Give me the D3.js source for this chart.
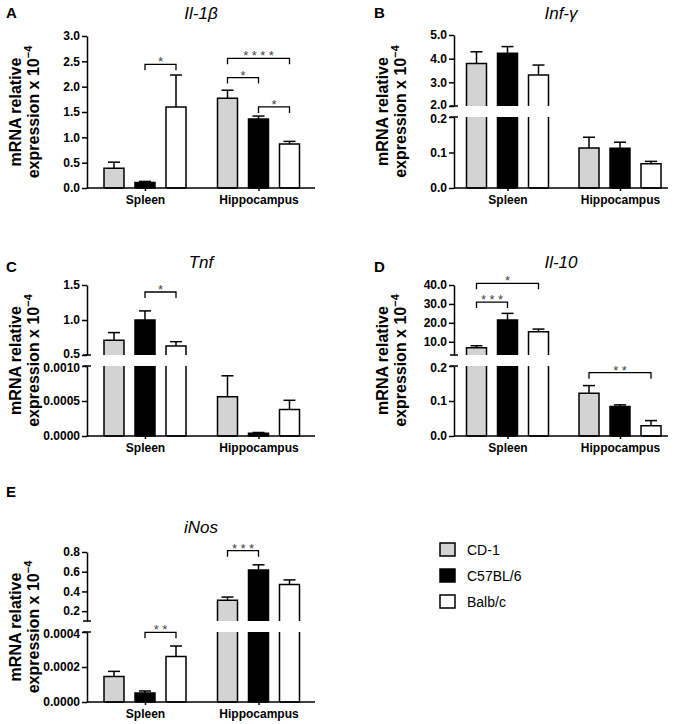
<!DOCTYPE html>
<html>
<head>
<meta charset="utf-8">
<script src="https://cdn.jsdelivr.net/npm/d3@7"></script>
<style>
  body { margin: 0; background: #fff; }
  text { font-family: "Liberation Sans", Arial, sans-serif; }
</style>
</head>
<body>
<svg id="chart" width="680" height="724"></svg>
<script>
// categories
var tissues = ["Spleen", "Hippocampus"];
var strains = ["CD-1", "C57BL/6", "Balb/c"];
var strainFill = ["#d3d3d3", "#000000", "#ffffff"];

// Il-1b  (means and SEM, rows = tissue, cols = strain)
var il1bMean = [[0.39, 0.11, 1.60], [1.77, 1.36, 0.87]];
var il1bSem  = [[0.12, 0.02, 0.63], [0.16, 0.06, 0.05]];
var il1bTicks = [0, 0.5, 1.0, 1.5, 2.0, 2.5, 3.0];
// [tissue, from strain, to strain, level, label]
var il1bSig = [[0, 1, 2, 2.44, "*"], [1, 0, 2, 2.56, "****"], [1, 0, 1, 2.18, "*"], [1, 1, 2, 1.60, "*"]];

// Inf-g
var infgMean = [[3.80, 4.23, 3.31], [0.113, 0.112, 0.068]];
var infgSem  = [[0.49, 0.28, 0.42], [0.030, 0.017, 0.007]];
var infgLowTicks = [0, 0.1, 0.2];
var infgHighTicks = [2.0, 3.0, 4.0, 5.0];
var infgSig = [];

// Tnf
var tnfMean = [[0.71, 1.00, 0.63], [0.00056, 0.00004, 0.00038]];
var tnfSem  = [[0.11, 0.13, 0.06], [0.00030, 0.00001, 0.00013]];
var tnfLowTicks = [0, 0.0005, 0.0010];
var tnfHighTicks = [0.5, 1.0, 1.5];
var tnfSig = [[0, 1, 2, 1.40, "*"]];

// Il-10
var il10Mean = [[6.8, 21.5, 15.3], [0.122, 0.084, 0.029]];
var il10Sem  = [[1.1, 3.5, 1.4], [0.022, 0.005, 0.015]];
var il10LowTicks = [0, 0.1, 0.2];
var il10HighTicks = [10, 20, 30, 40];
var il10Sig = [[0, 0, 2, 40.9, "*"], [0, 0, 1, 31, "***"], [1, 0, 2, 0.181, "**"]];

// iNos
var inosMean = [[0.000146, 0.000051, 0.00026], [0.31, 0.617, 0.47]];
var inosSem  = [[0.000029, 0.000012, 0.00006], [0.033, 0.053, 0.047]];
var inosLowTicks = [0, 0.0002, 0.0004];
var inosHighTicks = [0.2, 0.4, 0.6, 0.8];
var inosSig = [[0, 1, 2, 0.000398, "**"], [1, 0, 1, 0.813, "***"]];

var svg = d3.select("#chart");

// panel layout: x axis span, group centres, y segments (bottom first)
var left = {x0: 87, x1: 315, c: [145, 258.5]};
var right = {x0: 454, x1: 668, c: [507.5, 620]};

var panels = [
  {letter: "A", title: "Il-1\u03B2", lx: 6, ly: 18, ty: 19, col: left, labX: [21, 39],
   mean: il1bMean, sem: il1bSem, sig: il1bSig,
   segs: [{dom: [0, 3], rng: [188, 36], ticks: il1bTicks, fmt: ".1f"}]},
  {letter: "B", title: "Inf-\u03B3", lx: 374, ly: 18, ty: 19, col: right, labX: [388, 406],
   mean: infgMean, sem: infgSem, sig: infgSig,
   segs: [{dom: [0, 0.2], rng: [188, 117], ticks: infgLowTicks, fmt: ".1f"},
          {dom: [2, 5], rng: [106, 35], ticks: infgHighTicks, fmt: ".1f"}]},
  {letter: "C", title: "Tnf", lx: 6, ly: 272, ty: 268, col: left, labX: [21, 39],
   mean: tnfMean, sem: tnfSem, sig: tnfSig,
   segs: [{dom: [0, 0.001], rng: [436, 366], ticks: tnfLowTicks, fmt: ".4f"},
          {dom: [0.5, 1.5], rng: [355, 285], ticks: tnfHighTicks, fmt: ".1f"}]},
  {letter: "D", title: "Il-10", lx: 374, ly: 272, ty: 268, col: right, labX: [388, 406],
   mean: il10Mean, sem: il10Sem, sig: il10Sig,
   segs: [{dom: [0, 0.2], rng: [436, 366], ticks: il10LowTicks, fmt: ".1f"},
          {dom: [3, 40], rng: [355, 285], ticks: il10HighTicks, fmt: ".1f"}]},
  {letter: "E", title: "iNos", lx: 6, ly: 497, ty: 533, col: left, labX: [21, 39],
   mean: inosMean, sem: inosSem, sig: inosSig,
   segs: [{dom: [0, 0.0004], rng: [702, 632], ticks: inosLowTicks, fmt: ".4f"},
          {dom: [0.1, 0.8], rng: [621, 552], ticks: inosHighTicks, fmt: ".1f"}]}
];

panels.forEach(function(p) {
  var g = svg.append("g");
  var col = p.col;
  var broken = p.segs.length > 1;

  p.segs.forEach(function(s) {
    s.y = d3.scaleLinear().domain(s.dom).range(s.rng);
  });
  var base = p.segs[0].rng[0];

  var xGroup = d3.scalePoint().domain(tissues).range(col.c);
  var xStrain = d3.scaleBand().domain(strains).range([-41, 41]).paddingInner(0.355).paddingOuter(0);
  var bw = xStrain.bandwidth();

  // segment for a value: the highest whose lower end it passes
  function segFor(v) {
    var found = p.segs[0];
    p.segs.forEach(function(s) { if (v > s.dom[0]) found = s; });
    return found;
  }

  // bars, one piece per segment
  p.segs.forEach(function(s, k) {
    tissues.forEach(function(t, ti) {
      strains.forEach(function(st, si) {
        var v = p.mean[ti][si];
        if (v <= s.dom[0]) return;
        var xl = xGroup(t) + xStrain(st);
        var xr = xl + bw;
        var yb = s.rng[0];
        var closed = v <= s.dom[1];
        var yt = s.y(Math.min(v, s.dom[1]));
        g.append("rect")
          .attr("x", xl).attr("y", yt)
          .attr("width", bw).attr("height", yb - yt)
          .attr("fill", strainFill[si]);
        var d = "M" + xl + "," + yb + "V" + yt + (closed ? "H" + xr : "M" + xr + "," + yt) + "V" + yb;
        if (k === 0) d += "H" + xl;
        g.append("path").attr("d", d)
          .attr("fill", "none").attr("stroke", "#000").attr("stroke-width", 1.5);
      });
    });
  });

  // error bars (upper only)
  tissues.forEach(function(t, ti) {
    strains.forEach(function(st, si) {
      var v = p.mean[ti][si];
      var s = segFor(v);
      var xc = xGroup(t) + xStrain(st) + bw / 2;
      var y0 = s.y(v);
      var y1 = s.y(Math.min(v + p.sem[ti][si], s.dom[1]));
      g.append("line").attr("x1", xc).attr("x2", xc).attr("y1", y0).attr("y2", y1)
        .attr("stroke", "#000").attr("stroke-width", 1.5);
      g.append("line").attr("x1", xc - 6).attr("x2", xc + 6).attr("y1", y1).attr("y2", y1)
        .attr("stroke", "#000").attr("stroke-width", 1.5);
    });
  });

  // y axis segments
  p.segs.forEach(function(s, k) {
    var ax = g.append("g")
      .attr("transform", "translate(" + col.x0 + ",0)")
      .call(d3.axisLeft(s.y).tickValues(s.ticks).tickFormat(d3.format(s.fmt))
        .tickSize(5).tickSizeOuter(0).tickPadding(2));
    ax.select(".domain").attr("stroke-width", 1.5);
    ax.selectAll(".tick line").attr("stroke-width", 1.5);
    ax.selectAll(".tick text")
      .attr("font-family", "Liberation Sans, Arial, sans-serif")
      .attr("font-size", 12).attr("font-weight", "bold").attr("fill", "#000");
    if (broken) {
      // keep the two labels next to the break apart a little
      ax.selectAll(".tick text")
        .filter(function(d) { return k === 0 ? d === s.dom[1] : d === s.dom[0]; })
        .attr("dy", k === 0 ? "0.45em" : "0.2em");
      var yEnd = k === 0 ? s.rng[1] : s.rng[0];
      g.append("line").attr("x1", col.x0 - 4).attr("x2", col.x0 + 4)
        .attr("y1", yEnd).attr("y2", yEnd)
        .attr("stroke", "#000").attr("stroke-width", 1.5);
    }
  });

  // x axis
  var xa = g.append("g")
    .attr("transform", "translate(0," + base + ")")
    .call(d3.axisBottom(xGroup).tickSize(3).tickPadding(4));
  xa.select(".domain").remove();
  xa.append("line").attr("x1", col.x0).attr("x2", col.x1)
    .attr("stroke", "#000").attr("stroke-width", 1.5);
  xa.selectAll(".tick line").attr("stroke-width", 1.5);
  xa.selectAll(".tick text")
    .attr("font-family", "Liberation Sans, Arial, sans-serif")
    .attr("font-size", 12).attr("font-weight", "bold").attr("fill", "#000");

  // significance brackets
  p.sig.forEach(function(b) {
    var s = segFor(b[3]);
    var yy = s.y(b[3]);
    var xa1 = xGroup(tissues[b[0]]) + xStrain(strains[b[1]]) + bw / 2;
    var xa2 = xGroup(tissues[b[0]]) + xStrain(strains[b[2]]) + bw / 2;
    g.append("path")
      .attr("d", "M" + xa1 + "," + (yy + 6) + "V" + yy + "H" + xa2 + "V" + (yy + 6))
      .attr("fill", "none").attr("stroke", "#000").attr("stroke-width", 1.3);
    g.append("text")
      .attr("x", (xa1 + xa2) / 2).attr("y", yy + 2)
      .attr("dx", 1.7)
      .attr("text-anchor", "middle")
      .attr("font-size", 13).attr("letter-spacing", 3.4)
      .attr("fill", "#444")
      .text(b[4]);
  });

  // titles and labels
  g.append("text")
    .attr("x", (col.x0 + col.x1) / 2).attr("y", p.ty)
    .attr("text-anchor", "middle").attr("font-size", 17).attr("font-style", "italic")
    .text(p.title);
  g.append("text")
    .attr("x", p.lx).attr("y", p.ly)
    .attr("font-size", 15).attr("font-weight", "bold")
    .text(p.letter);

  var yMid = (p.segs[0].rng[0] + p.segs[p.segs.length - 1].rng[1]) / 2;
  g.append("text")
    .attr("transform", "translate(" + p.labX[0] + "," + yMid + ") rotate(-90)")
    .attr("text-anchor", "middle").attr("font-size", 16).attr("font-weight", "bold")
    .text("mRNA relative");
  var l2 = g.append("text")
    .attr("transform", "translate(" + p.labX[1] + "," + yMid + ") rotate(-90)")
    .attr("text-anchor", "middle").attr("font-size", 16).attr("font-weight", "bold");
  l2.append("tspan").text("expression x 10");
  l2.append("tspan").attr("dy", -7).attr("font-size", 11).text("\u22124");
});

// legend
var legend = svg.append("g").attr("transform", "translate(440,543)");
strains.forEach(function(st, i) {
  var row = legend.append("g").attr("transform", "translate(0," + (i * 26) + ")");
  row.append("rect").attr("width", 15).attr("height", 13)
    .attr("fill", strainFill[i]).attr("stroke", "#000").attr("stroke-width", 1.5);
  row.append("text").attr("x", 27).attr("y", 11.5)
    .attr("font-size", 14).text(st);
});
</script>
</body>
</html>
